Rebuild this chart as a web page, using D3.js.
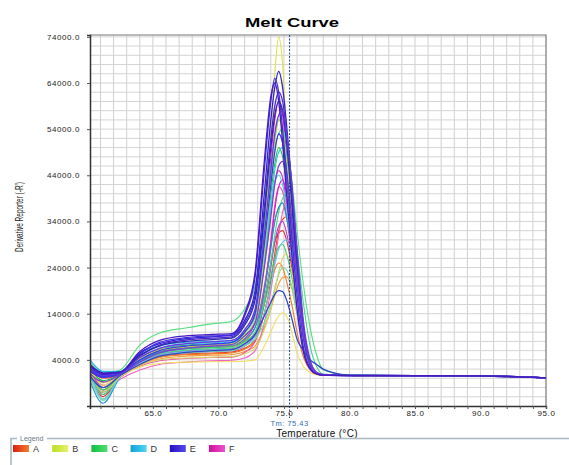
<!DOCTYPE html>
<html>
<head>
<meta charset="utf-8">
<script src="https://cdn.jsdelivr.net/npm/d3@7"></script>
<style>
  body { margin: 0; background: #fff; }
  svg { display: block; font-family: Arial, "Liberation Sans", sans-serif; }
</style>
</head>
<body>
<svg id="chart" width="569" height="465"></svg>
<script>
var temps = [60.2, 61.2, 62.5, 64, 65.5, 67.5, 69.5, 71, 72, 72.8, 73.5, 74, 74.3, 74.6, 74.9, 75.2, 75.6, 76, 76.5, 77, 77.5, 78, 80, 85, 90, 95];

var xTicks = [65, 70, 75, 80, 85, 90, 95];
var yTicks = [4000, 14000, 24000, 34000, 44000, 54000, 64000, 74000];
var legendLabels = ["A", "B", "C", "D", "E", "F"];
var tm = 75.43;

// one row per well, values are -R' at each temperature above
var wellGroups = [
  "A", "A", "A", "A", "A",
  "F", "F", "F", "F", "F", "F",
  "C", "C", "C", "C", "C",
  "D", "D", "D", "D", "D",
  "B", "B", "B", "B",
  "E", "E", "E", "E", "E", "E", "E", "E", "E"
];
var wellValues = [
  // A
  [1500, -3500, 500, 3200, 4700, 5300, 5500, 5700, 6500, 8300, 14000, 21000, 27000, 32000, 34500, 35000, 30000, 20000, 9000, 3300, 1200, 700, 600, 550, 500, 100],
  [2000, -2500, 500, 3000, 4500, 5100, 5300, 5500, 6300, 8000, 14000, 20000, 23500, 25000, 24000, 21000, 16000, 10000, 4500, 1800, 900, 700, 600, 550, 500, 100],
  [800, -4000, 400, 3500, 5200, 5900, 6200, 6400, 7400, 9500, 17000, 25000, 29500, 31500, 32000, 30000, 24000, 16000, 7000, 2500, 1000, 700, 600, 550, 500, 100],
  [1200, -4500, 300, 2800, 4200, 4800, 5000, 5100, 5800, 7000, 11000, 15000, 18000, 20500, 21800, 22000, 19500, 14000, 7500, 3000, 1200, 700, 600, 550, 500, 100],
  [2200, 0, 900, 3900, 5600, 6400, 6700, 6900, 8200, 11000, 20000, 29000, 34000, 37000, 38000, 35000, 28000, 18000, 8000, 2800, 1000, 700, 600, 550, 500, 100],
  // F
  [2000, 200, 1000, 4200, 6000, 6900, 7200, 7500, 9800, 14000, 32000, 48000, 56000, 60000, 57000, 49000, 37000, 23000, 9000, 3000, 1000, 700, 600, 550, 500, 100],
  [1500, -1500, 700, 3800, 5600, 6400, 6700, 6900, 8600, 12000, 25000, 37000, 42500, 45000, 43500, 38000, 28500, 17500, 7000, 2400, 900, 700, 600, 550, 500, 100],
  [500, -3000, 200, 2600, 3800, 4300, 4500, 4600, 5600, 8000, 19000, 30000, 37500, 41500, 40500, 35000, 26000, 15500, 6000, 2100, 900, 700, 600, 550, 500, 100],
  [1800, -2000, 600, 3300, 4900, 5500, 5800, 6000, 7000, 9500, 19000, 29000, 36500, 41500, 43000, 40000, 31000, 20000, 8500, 2800, 1000, 700, 600, 550, 500, 100],
  [1000, -2500, -200, 1800, 3000, 3500, 3800, 3900, 4400, 6000, 12000, 19000, 25000, 31000, 36000, 38000, 33000, 22000, 9500, 3200, 1100, 700, 600, 550, 500, 100],
  [2500, 600, 1100, 3700, 5200, 5900, 6200, 6300, 7300, 9000, 16000, 24000, 29500, 33000, 34000, 31500, 25000, 16500, 7500, 2600, 1000, 700, 600, 550, 500, 100],
  // C
  [3500, 1000, 1800, 7200, 9800, 10900, 11800, 12300, 15000, 20000, 33000, 44000, 50000, 53000, 54000, 51000, 43000, 32000, 20000, 11000, 5000, 1800, 700, 600, 550, 100],
  [1200, -2500, 600, 3800, 5600, 6400, 6700, 6900, 8000, 10000, 16000, 22000, 26000, 28500, 29000, 27000, 22000, 15000, 7000, 2800, 1100, 700, 600, 550, 500, 100],
  [2000, -500, 900, 4300, 6300, 7200, 7500, 7700, 9800, 13500, 28000, 40000, 46500, 50000, 48000, 42000, 32000, 20000, 8000, 2700, 1000, 700, 600, 550, 500, 100],
  [800, -3500, 400, 3600, 5300, 6100, 6400, 6600, 7800, 10000, 17000, 25000, 31000, 36000, 39000, 40000, 36000, 28000, 16000, 7000, 2500, 900, 650, 550, 500, 100],
  [300, -4800, 300, 3200, 4800, 5500, 5800, 6000, 7000, 8500, 12000, 16000, 19500, 22500, 24000, 23500, 20000, 14000, 7000, 2800, 1100, 700, 600, 550, 500, 100],
  // D
  [4000, 1500, 1500, 5500, 7000, 7800, 8000, 8200, 10500, 15000, 32000, 46000, 52000, 56000, 54000, 48000, 36000, 22000, 9000, 3000, 1000, 700, 600, 600, 500, 100],
  [1000, -3000, 500, 4200, 6200, 7000, 7300, 7600, 9300, 12500, 25000, 37000, 45000, 49000, 50000, 46000, 36000, 24000, 10000, 3300, 1100, 700, 600, 550, 500, 100],
  [-500, -5400, 200, 3800, 5800, 6700, 7000, 7200, 8500, 11000, 19000, 28000, 34000, 37000, 38000, 35000, 28000, 19000, 8500, 3000, 1100, 700, 600, 550, 500, 100],
  [2500, 300, 1100, 4500, 6500, 7400, 7700, 7900, 10000, 13500, 27000, 38000, 42500, 44000, 42000, 37000, 28000, 17000, 7000, 2500, 900, 700, 600, 550, 500, 100],
  [1500, -4500, 300, 3300, 5000, 5800, 6100, 6300, 7300, 9000, 14000, 20000, 24500, 28000, 29500, 30000, 26000, 18000, 8000, 3000, 1100, 700, 600, 550, 500, 100],
  // B
  [1500, -1000, 800, 4200, 6200, 7000, 7300, 7500, 9500, 14000, 30000, 52000, 66000, 74000, 68000, 52000, 34000, 18000, 6500, 2200, 900, 700, 600, 550, 500, 100],
  [2500, -1500, 500, 2400, 3200, 3500, 3600, 3600, 3700, 4000, 7000, 10000, 12000, 13500, 14200, 13500, 10000, 5500, 2500, 1200, 800, 600, 600, 550, 500, 100],
  [1000, -2000, 700, 4000, 6000, 6800, 7100, 7300, 9000, 12500, 27000, 42000, 51000, 56000, 54000, 47000, 35000, 21000, 8500, 2800, 1000, 700, 600, 550, 500, 100],
  [1800, -3000, 300, 2800, 4000, 4400, 4600, 4700, 5300, 6500, 10500, 15000, 19000, 23000, 26000, 27000, 23000, 15000, 7000, 2800, 1100, 700, 600, 550, 500, 100],
  // E
  [2500, 800, 1200, 5500, 7500, 8600, 9000, 9300, 12500, 19000, 40000, 56000, 63000, 66500, 63000, 55000, 42000, 27000, 11000, 3500, 1200, 800, 650, 600, 550, 100],
  [2000, 500, 1000, 5200, 7800, 8800, 9200, 9400, 13500, 22000, 45000, 60000, 65000, 62000, 54000, 44000, 31000, 18000, 6500, 2200, 1000, 700, 600, 600, 550, 100],
  [1500, 200, 900, 4800, 7200, 8300, 8700, 9000, 12000, 18000, 37000, 52000, 59000, 62000, 60000, 53000, 40000, 25000, 10000, 3200, 1100, 750, 650, 600, 550, 100],
  [3000, 1200, 1400, 5000, 7000, 8000, 8400, 8700, 11500, 17000, 35000, 50000, 57000, 60000, 58000, 51000, 38000, 23000, 9000, 3000, 1000, 700, 600, 600, 500, 100],
  [2200, 600, 1100, 4500, 6500, 7500, 7900, 8200, 10500, 15000, 31000, 45000, 53000, 57000, 58000, 53000, 42000, 28000, 12000, 4000, 1300, 800, 650, 600, 550, 100],
  [1800, 300, 1000, 4000, 6000, 7000, 7400, 7800, 10000, 14000, 29000, 42000, 49000, 53000, 51000, 45000, 34000, 21000, 8500, 2800, 1000, 700, 600, 550, 500, 100],
  [1000, -800, 800, 3500, 5500, 6500, 7000, 7300, 9200, 12000, 24000, 35000, 42000, 46000, 47000, 43000, 34000, 22000, 9500, 3200, 1100, 700, 600, 550, 500, 100],
  [500, -2000, 600, 3000, 4800, 5600, 6000, 6200, 7500, 9500, 13500, 16500, 18200, 19000, 18800, 17000, 13000, 8500, 6000, 4000, 3000, 2000, 700, 600, 500, 100],
  [2800, 1000, 1300, 5800, 8200, 9200, 9500, 9700, 14000, 23000, 47000, 61000, 64000, 60000, 51000, 40000, 27000, 15000, 5500, 2000, 900, 700, 600, 600, 550, 100]
];

var wellColors = [
  "#e8401c", "#f07a22", "#d82a2a", "#f09a38", "#e85a4a",
  "#e020b0", "#c830c8", "#f04aa8", "#d018d0", "#f060c0", "#b040d8",
  "#58e080", "#30d060", "#20c040", "#40d890", "#70e0a8",
  "#20b8e0", "#30c8d0", "#1898d8", "#40d0f0", "#68c8f0",
  "#e0e040", "#f0e060", "#c0e030", "#d8d060",
  "#3020d8", "#4030e0", "#5028c8", "#2828b0", "#6a38e0", "#3838f0", "#7a40d0", "#3048c0", "#4818c0"
];

var legendColors = [
  ["#dc1e10", "#f08030"],
  ["#b8e020", "#e8f070"],
  ["#10c040", "#50e070"],
  ["#10a0d8", "#50d8f0"],
  ["#2010c0", "#5848f0"],
  ["#d010a0", "#f050c8"]
];

var svg = d3.select("#chart"),
    margin = {top: 35, right: 23, bottom: 59, left: 90},
    width = 569 - margin.left - margin.right,
    height = 465 - margin.top - margin.bottom;

var x = d3.scaleLinear().domain([60.2, 95]).range([0, width]);
var y = d3.scaleLinear().domain([-6000, 74400]).range([height, 0]);

var defs = svg.append("defs");
defs.append("clipPath").attr("id", "plotClip")
  .append("rect").attr("width", width).attr("height", height);

legendColors.forEach(function (c, i) {
  var g = defs.append("linearGradient").attr("id", "lg" + i);
  g.append("stop").attr("offset", "0%").attr("stop-color", c[0]);
  g.append("stop").attr("offset", "100%").attr("stop-color", c[1]);
});

// title
svg.append("text")
  .attr("x", 292).attr("y", 27)
  .attr("text-anchor", "middle")
  .attr("font-size", 13).attr("font-weight", "bold")
  .attr("textLength", 94).attr("lengthAdjust", "spacingAndGlyphs")
  .text("Melt Curve");

var plot = svg.append("g").attr("transform", "translate(" + margin.left + "," + margin.top + ")");

// grid
plot.append("g").selectAll("line")
  .data(d3.range(61, 95))
  .enter().append("line")
  .attr("x1", function (d) { return x(d); }).attr("x2", function (d) { return x(d); })
  .attr("y1", 0).attr("y2", height)
  .attr("stroke", "#cfcfcf").attr("stroke-width", 1);

plot.append("g").selectAll("line")
  .data(d3.range(-4000, 74001, 2000))
  .enter().append("line")
  .attr("x1", 0).attr("x2", width)
  .attr("y1", function (d) { return y(d); }).attr("y2", function (d) { return y(d); })
  .attr("stroke", "#d4d4d4").attr("stroke-width", 1);

// frame
plot.append("path")
  .attr("d", "M0,0H" + width + "V" + height)
  .attr("fill", "none").attr("stroke", "#777").attr("stroke-width", 1.2);

// curves
var line = d3.line()
  .x(function (d, i) { return x(temps[i]); })
  .y(function (d) { return y(d); })
  .curve(d3.curveMonotoneX);

plot.append("g").attr("clip-path", "url(#plotClip)")
  .selectAll("path")
  .data(wellValues)
  .enter().append("path")
  .attr("d", line)
  .attr("fill", "none")
  .attr("stroke", function (d, i) { return wellColors[i]; })
  .attr("stroke-width", function (d, i) { return wellGroups[i] === "E" ? 1.3 : 1.1; });

// Tm marker
plot.append("line")
  .attr("x1", x(tm)).attr("x2", x(tm))
  .attr("y1", 0).attr("y2", height + 12)
  .attr("stroke", "#1f3f96").attr("stroke-width", 1)
  .attr("stroke-dasharray", "2,1.5");

// axes
var xAxis = d3.axisBottom(x).tickValues(d3.range(61, 96)).tickSize(3)
  .tickFormat(function (d) { return xTicks.indexOf(d) >= 0 ? d3.format(".1f")(d) : ""; });
var gx = plot.append("g").attr("transform", "translate(0," + height + ")").call(xAxis);
gx.select(".domain").attr("stroke", "#333").attr("stroke-width", 1.5);
gx.selectAll(".tick line").attr("stroke", "#555");
gx.selectAll("text").attr("font-size", 8).attr("letter-spacing", 0.6).attr("fill", "#222").attr("dy", "0.55em");

var yAxis = d3.axisLeft(y).tickValues(yTicks).tickSize(3).tickPadding(7)
  .tickFormat(d3.format(".1f"));
var gy = plot.append("g").call(yAxis);
gy.select(".domain").attr("stroke", "#333").attr("stroke-width", 1.5);
gy.selectAll(".tick line").attr("stroke", "#555");
gy.selectAll("text").attr("font-size", 8).attr("letter-spacing", 0.6).attr("fill", "#222");

// labels
svg.append("text")
  .attr("x", margin.left + x(tm)).attr("y", 426)
  .attr("text-anchor", "middle")
  .attr("font-size", 7.5).attr("letter-spacing", 0.5).attr("fill", "#2f6fb8")
  .text("Tm: " + tm.toFixed(2));

svg.append("text")
  .attr("x", 317).attr("y", 436.5)
  .attr("text-anchor", "middle")
  .attr("font-size", 10).attr("letter-spacing", 0.3).attr("fill", "#111")
  .text("Temperature (°C)");

svg.append("text")
  .attr("transform", "translate(23,217) rotate(-90)")
  .attr("text-anchor", "middle")
  .attr("font-size", 10).attr("fill", "#222")
  .attr("textLength", 70).attr("lengthAdjust", "spacingAndGlyphs")
  .text("Derivative Reporter (-R')");

// legend box
svg.append("path")
  .attr("d", "M11,465V438.5H569")
  .attr("fill", "none").attr("stroke", "#a9b9c2").attr("stroke-width", 1.6);
svg.append("rect").attr("x", 17).attr("y", 434).attr("width", 30).attr("height", 8).attr("fill", "#fff");
svg.append("text")
  .attr("x", 20).attr("y", 441)
  .attr("font-size", 7).attr("fill", "#6a7a88")
  .text("Legend");

var item = svg.append("g").selectAll("g")
  .data(legendLabels)
  .enter().append("g")
  .attr("transform", function (d, i) { return "translate(" + (13 + i * 39.2) + ",445)"; });
item.append("rect")
  .attr("width", 16).attr("height", 7)
  .attr("fill", function (d, i) { return "url(#lg" + i + ")"; });
item.append("text")
  .attr("x", 20).attr("y", 7)
  .attr("font-size", 9).attr("fill", "#333")
  .text(function (d) { return d; });
</script>
</body>
</html>
